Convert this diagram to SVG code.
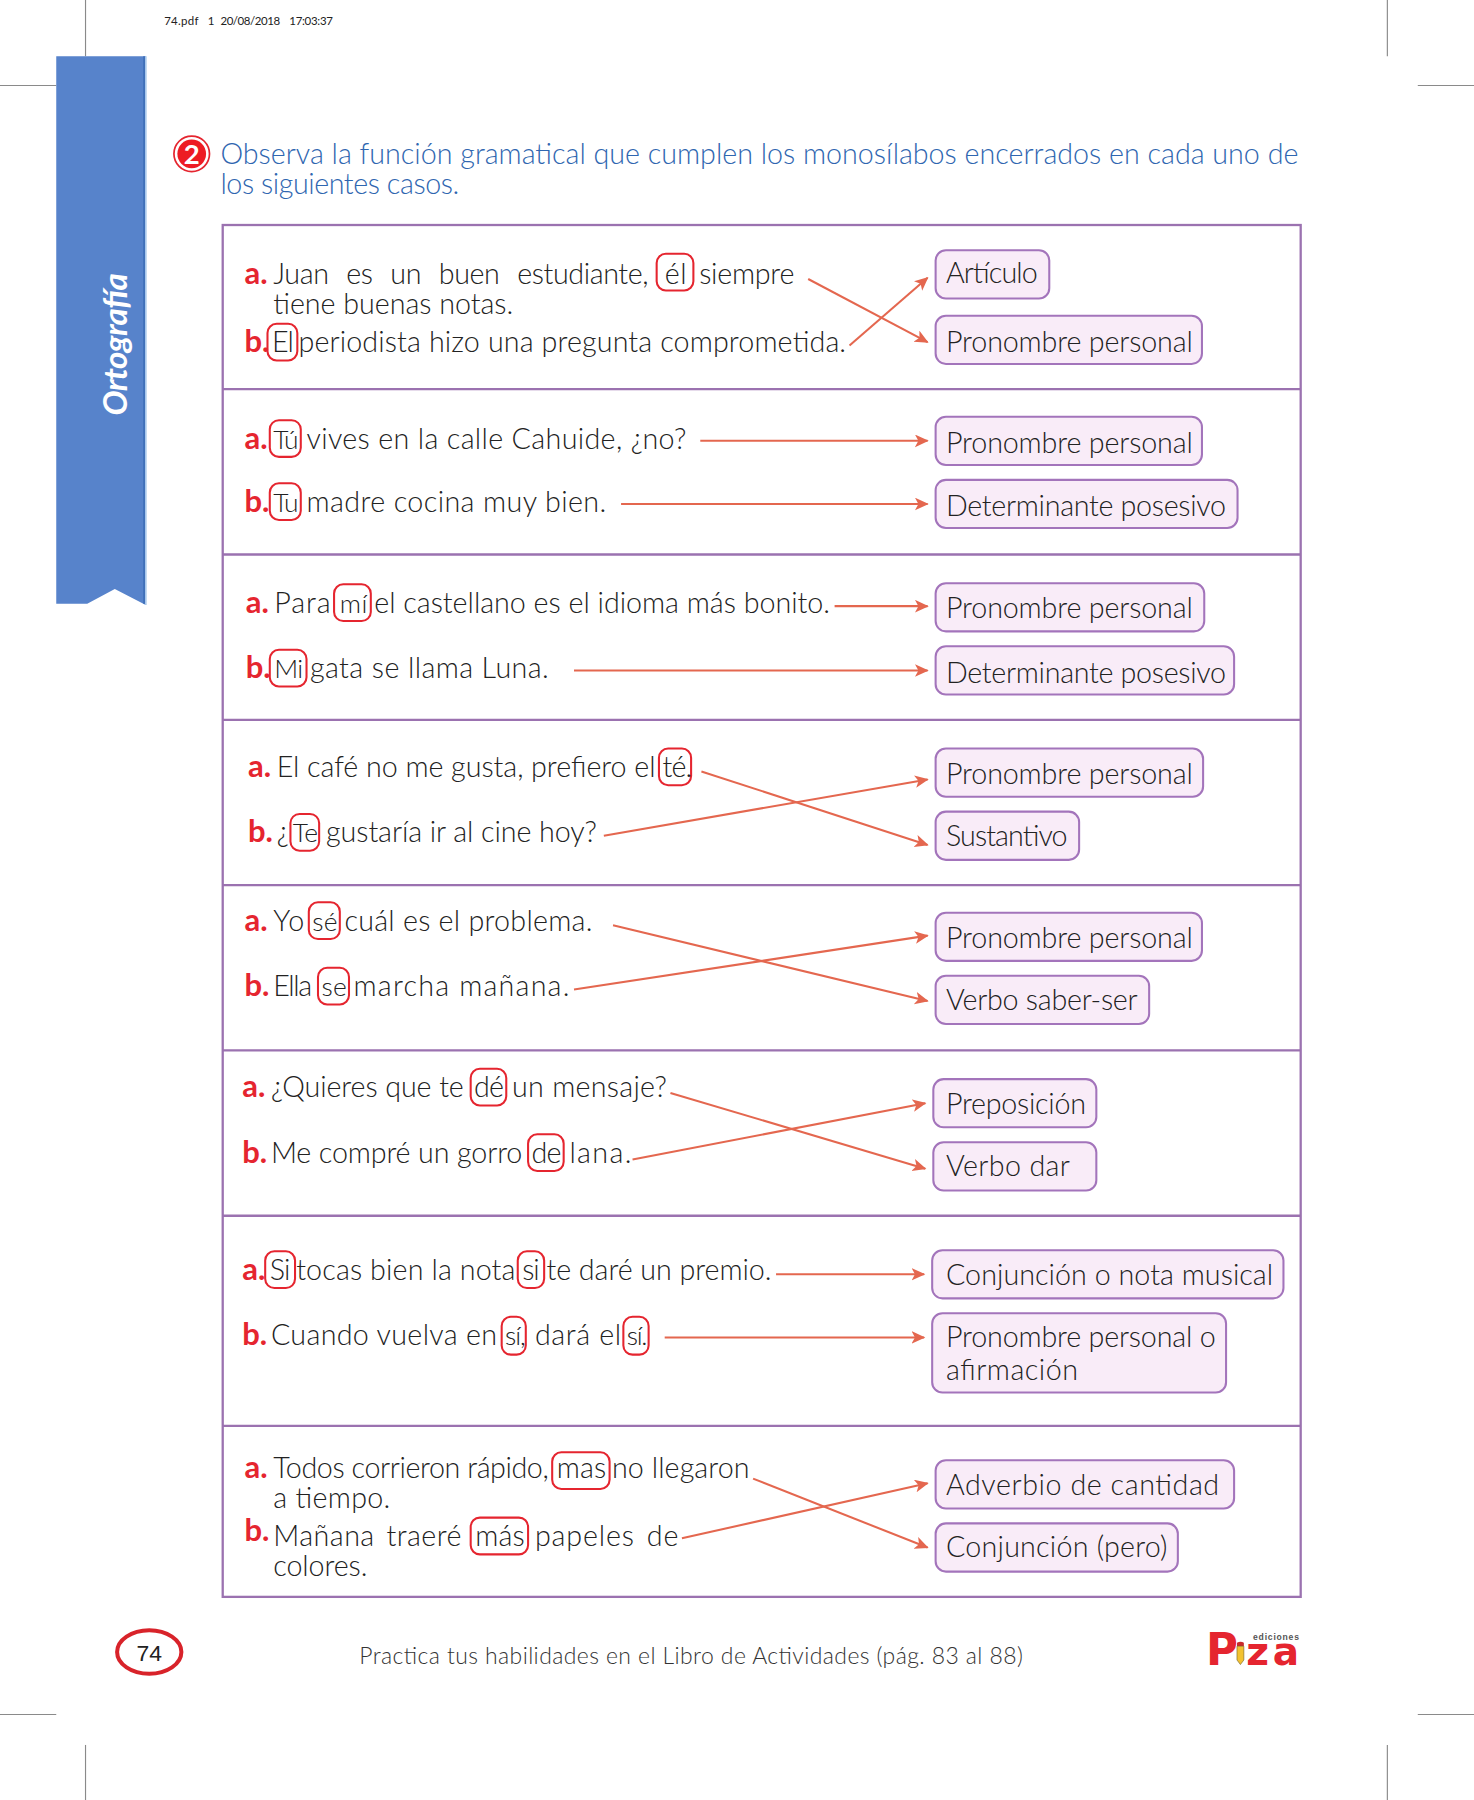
<svg xmlns="http://www.w3.org/2000/svg" width="1474" height="1800" viewBox="0 0 1474 1800">
<style>
text{font-family:"Lato","Liberation Sans",sans-serif;font-size:25px;font-weight:300;fill:#222}
g>text:not([transform]){transform:translateY(.7px)}
.l{font-weight:700;fill:#e5252f;font-size:27px}
.t{fill:#2f66b0}
.j{word-spacing:9px}
.k{word-spacing:3px}
.p{font-size:10px;font-weight:400}
.b rect{fill:#f9ecf8;stroke:#a374bb;stroke-width:1.800}
.m{fill:none;stroke:#e5252f;stroke-width:1.800}
.c line{stroke:#e4674f;stroke-width:1.800;marker-end:url(#ah)}
.crop line{stroke:#8a8a8a;stroke-width:1}
.f{fill:none;stroke:#9b72b0;stroke-width:2}
</style>
<defs>
<marker id="ah" markerUnits="userSpaceOnUse" markerWidth="14" markerHeight="14" refX="11" refY="5.500" orient="auto"><path d="M0 0L12 5.500L0 11L3 5.500Z" fill="#e4674f"/></marker>
</defs>
<rect width="1474" height="1800" fill="#fff"/>
<g transform="scale(1.148)">
<g id="crop" class="crop">
<line x1="74.5" y1="0" x2="74.5" y2="49"/><line x1="0" y1="74.5" x2="49" y2="74.5"/>
<line x1="1208.5" y1="0" x2="1208.5" y2="49"/><line x1="1235" y1="74.5" x2="1284" y2="74.5"/>
<line x1="0" y1="1493.5" x2="49" y2="1493.5"/><line x1="1235" y1="1493.5" x2="1284" y2="1493.5"/>
<line x1="74.5" y1="1520" x2="74.5" y2="1568"/><line x1="1208.5" y1="1520" x2="1208.5" y2="1568"/>
</g>
<g id="print-info"><text class="p" x="143" y="21" textLength="30">74.pdf</text><text class="p" x="181" y="21">1</text><text class="p" x="192" y="21" textLength="52">20/08/2018</text><text class="p" x="252" y="21" textLength="38">17:03:37</text></g>
<g id="ribbon">
<path d="M49 49H127V527L100 513L76 526H49Z" fill="#5783cb"/>
<path d="M127 49V527" stroke="#a9c8ec" stroke-width="1.500"/>
<path d="M125.500 49V526" stroke="#3f6fb8" stroke-width="1.500"/>
<text transform="translate(110.500 362) rotate(-90)" textLength="124" style="font-size:29px;font-weight:700;font-style:italic;fill:#fff">Ortografía</text>
</g>
<g id="heading">
<circle cx="167" cy="134" r="15.500" fill="#fff" stroke="#e5252f" stroke-width="1.500"/>
<circle cx="167" cy="134" r="12.500" fill="#ed1c24"/>
<text x="167" y="142.500" text-anchor="middle" style="font-size:24px;font-weight:700;fill:#fff">2</text>
<text class="t" x="192" y="142" textLength="939">Observa la función gramatical que cumplen los monosílabos encerrados en cada uno de</text>
<text class="t" x="192" y="168" textLength="208">los siguientes casos.</text>
</g>
<g id="frame" class="f">
<rect x="194" y="196" width="939" height="1195"/>
<path d="M194 339H1133M194 483H1133M194 627H1133M194 771H1133M194 915H1133M194 1059H1133M194 1242H1133"/>
</g>
<g id="connectors" class="c">
<line x1="704" y1="243" x2="808" y2="298"/><line x1="740" y1="301" x2="808" y2="242"/>
<line x1="610" y1="384" x2="808" y2="384"/><line x1="541" y1="439" x2="808" y2="439"/>
<line x1="727" y1="528" x2="808" y2="528"/><line x1="500" y1="584" x2="808" y2="584"/>
<line x1="611" y1="672" x2="808" y2="736"/><line x1="526" y1="728" x2="808" y2="679"/>
<line x1="534" y1="806" x2="808" y2="872"/><line x1="500" y1="862" x2="808" y2="815"/>
<line x1="584" y1="952" x2="806" y2="1018"/><line x1="551" y1="1010" x2="806" y2="961"/>
<line x1="676" y1="1110" x2="805" y2="1110"/><line x1="579" y1="1165" x2="805" y2="1165"/>
<line x1="656" y1="1288" x2="808" y2="1348"/><line x1="594" y1="1340" x2="808" y2="1292"/>
</g>
<g id="row1-a"><text class="l" x="213" y="247">a.</text><text class="j" x="238" y="247" textLength="327">Juan es un buen estudiante,</text><rect class="m" x="572" y="221" width="32" height="32" rx="8"/><text x="579" y="247" textLength="19">él</text><text x="609" y="247" textLength="83">siempre</text><text x="238" y="273" textLength="209">tiene buenas notas.</text></g>
<g id="row1-b"><text class="l" x="213" y="306">b.</text><rect class="m" x="233" y="282" width="26" height="32" rx="8"/><text x="237" y="306" textLength="19">El</text><text x="260" y="306" textLength="477">periodista hizo una pregunta comprometida.</text></g>
<g id="row2-a"><text class="l" x="213" y="390">a.</text><rect class="m" x="235" y="366" width="27" height="32" rx="8"/><text x="238" y="390" style="font-size:23px" textLength="22">Tú</text><text x="267" y="390" textLength="331">vives en la calle Cahuide, ¿no?</text></g>
<g id="row2-b"><text class="l" x="213" y="445">b.</text><rect class="m" x="235" y="421" width="27" height="32" rx="8"/><text x="238" y="445" style="font-size:23px" textLength="22">Tu</text><text x="267" y="445" textLength="261">madre cocina muy bien.</text></g>
<g id="row3-a"><text class="l" x="214" y="533">a.</text><text x="239" y="533" textLength="49">Para</text><rect class="m" x="291" y="509" width="32" height="32" rx="8"/><text x="296" y="533" style="font-size:23px" textLength="24">mí</text><text x="326" y="533" textLength="397">el castellano es el idioma más bonito.</text></g>
<g id="row3-b"><text class="l" x="214" y="590">b.</text><rect class="m" x="235" y="566" width="32" height="32" rx="8"/><text x="239" y="590" style="font-size:23px" textLength="25">Mi</text><text x="270" y="590" textLength="208">gata se llama Luna.</text></g>
<g id="row4-a"><text class="l" x="216" y="676">a.</text><text x="241" y="676" textLength="330">El café no me gusta, prefiero el</text><rect class="m" x="574" y="652" width="28" height="32" rx="8"/><text x="577" y="676" textLength="26">té.</text></g>
<g id="row4-b"><text class="l" x="216" y="733">b.</text><text x="241" y="733">¿</text><rect class="m" x="253" y="709" width="25" height="32" rx="8"/><text x="255" y="733" style="font-size:23px" textLength="22">Te</text><text x="284" y="733" textLength="236">gustaría ir al cine hoy?</text></g>
<g id="row5-a"><text class="l" x="213" y="810">a.</text><text x="238" y="810" textLength="27">Yo</text><rect class="m" x="269" y="786" width="27" height="32" rx="8"/><text x="272" y="810" style="font-size:23px" textLength="22">sé</text><text x="300" y="810" textLength="216">cuál es el problema.</text></g>
<g id="row5-b"><text class="l" x="213" y="867">b.</text><text x="238" y="867" textLength="34">Ella</text><rect class="m" x="277" y="843" width="27" height="32" rx="8"/><text x="280" y="867" style="font-size:23px" textLength="22">se</text><text x="308" y="867" textLength="188">marcha mañana.</text></g>
<g id="row6-a"><text class="l" x="211" y="955">a.</text><text x="236" y="955" textLength="168">¿Quieres que te</text><rect class="m" x="410" y="931" width="31" height="32" rx="8"/><text x="413" y="955" textLength="26">dé</text><text x="446" y="955" textLength="135">un mensaje?</text></g>
<g id="row6-b"><text class="l" x="211" y="1012">b.</text><text x="236" y="1012" textLength="219">Me compré un gorro</text><rect class="m" x="460" y="988" width="31" height="32" rx="8"/><text x="463" y="1012" textLength="26">de</text><text x="496" y="1012" textLength="54">lana.</text></g>
<g id="row7-a"><text class="l" x="211" y="1114">a.</text><rect class="m" x="231" y="1090" width="26" height="32" rx="8"/><text x="235" y="1114" textLength="18">Si</text><text x="258" y="1114" textLength="191">tocas bien la nota</text><rect class="m" x="451" y="1090" width="23" height="32" rx="8"/><text x="455" y="1114" textLength="15">si</text><text x="476" y="1114" textLength="196">te daré un premio.</text></g>
<g id="row7-b"><text class="l" x="211" y="1171">b.</text><text x="236" y="1171" textLength="197">Cuando vuelva en</text><rect class="m" x="437" y="1147" width="21" height="33" rx="8"/><text x="440" y="1171" style="font-size:23px" textLength="18">sí,</text><text x="466" y="1171" textLength="75">dará el</text><rect class="m" x="543" y="1147" width="22" height="33" rx="8"/><text x="546" y="1171" style="font-size:23px" textLength="18">sí.</text></g>
<g id="row8-a"><text class="l" x="213" y="1287">a.</text><text x="238" y="1287" textLength="240">Todos corrieron rápido,</text><rect class="m" x="481" y="1265" width="50" height="32" rx="8"/><text x="485" y="1287" textLength="43">mas</text><text x="533" y="1287" textLength="120">no llegaron</text><text x="238" y="1313" textLength="102">a tiempo.</text></g>
<g id="row8-b"><text class="l" x="213" y="1342">b.</text><text class="k" x="238" y="1346" textLength="164">Mañana traeré</text><rect class="m" x="410" y="1322" width="50" height="32" rx="8"/><text x="414" y="1346" textLength="43">más</text><text class="k" x="466" y="1346" textLength="125">papeles de</text><text x="238" y="1372" textLength="82">colores.</text></g>
<g class="b">
<g id="n1"><rect x="815" y="218" width="99" height="42" rx="9"/><text x="824" y="246" textLength="80">Artículo</text></g>
<g id="n2"><rect x="815" y="275" width="232" height="42" rx="9"/><text x="824" y="306" textLength="215">Pronombre personal</text></g>
<g id="n3"><rect x="815" y="363" width="232" height="42" rx="9"/><text x="824" y="394" textLength="215">Pronombre personal</text></g>
<g id="n4"><rect x="815" y="418" width="263" height="42" rx="9"/><text x="824" y="449" textLength="244">Determinante posesivo</text></g>
<g id="n5"><rect x="815" y="508" width="234" height="42" rx="9"/><text x="824" y="538" textLength="215">Pronombre personal</text></g>
<g id="n6"><rect x="815" y="563" width="260" height="42" rx="9"/><text x="824" y="594" textLength="244">Determinante posesivo</text></g>
<g id="n7"><rect x="815" y="652" width="233" height="42" rx="9"/><text x="824" y="682" textLength="215">Pronombre personal</text></g>
<g id="n8"><rect x="815" y="707" width="125" height="42" rx="9"/><text x="824" y="736" textLength="106">Sustantivo</text></g>
<g id="n9"><rect x="815" y="795" width="232" height="42" rx="9"/><text x="824" y="825" textLength="215">Pronombre personal</text></g>
<g id="n10"><rect x="815" y="850" width="186" height="42" rx="9"/><text x="824" y="879" textLength="167">Verbo saber-ser</text></g>
<g id="n11"><rect x="813" y="940" width="142" height="42" rx="9"/><text x="824" y="970" textLength="122">Preposición</text></g>
<g id="n12"><rect x="813" y="995" width="142" height="42" rx="9"/><text x="824" y="1024" textLength="108">Verbo dar</text></g>
<g id="n13"><rect x="812" y="1089" width="306" height="42" rx="9"/><text x="824" y="1119" textLength="285">Conjunción o nota musical</text></g>
<g id="n14"><rect x="812" y="1144" width="256" height="69" rx="9"/><text x="824" y="1173" textLength="235">Pronombre personal o</text><text x="824" y="1201" textLength="115">afirmación</text></g>
<g id="n15"><rect x="815" y="1272" width="260" height="42" rx="9"/><text x="824" y="1302" textLength="238">Adverbio de cantidad</text></g>
<g id="n16"><rect x="815" y="1327" width="211" height="42" rx="9"/><text x="824" y="1356" textLength="193">Conjunción (pero)</text></g>
</g>
<g id="footer">
<ellipse cx="130" cy="1439" rx="28" ry="19" fill="#fff" stroke="#d8232a" stroke-width="3.500"/>
<text x="130" y="1446" text-anchor="middle" style="font-size:20px;font-weight:400;font-family:'Liberation Sans',sans-serif">74</text>
<text x="313" y="1449" textLength="578" style="font-size:20px;fill:#333">Practica tus habilidades en el Libro de Actividades (pág. 83 al 88)</text>
</g>
<g id="logo">
<text x="1091.500" y="1428" textLength="40" style="font-size:7.500px;font-weight:700;fill:#555;font-family:'Liberation Sans',sans-serif">ediciones</text>
<text x="1050.500" y="1449.500" textLength="25" style="font-size:38px;font-weight:700;fill:#e5252f;font-family:'DejaVu Sans',sans-serif">P</text>
<path d="M1077.500 1431q3.200-2 6 0v3h-6Z" fill="#c92b2b"/>
<path d="M1077.500 1434h6v12l-3 4l-3-4Z" fill="#f2c230" stroke="#6d5a1e" stroke-width=".5"/>
<text x="1085.500" y="1449.500" textLength="46" style="font-size:34px;font-weight:700;fill:#e5252f;font-family:'DejaVu Sans',sans-serif">za</text>
</g>
</g>
</svg>
